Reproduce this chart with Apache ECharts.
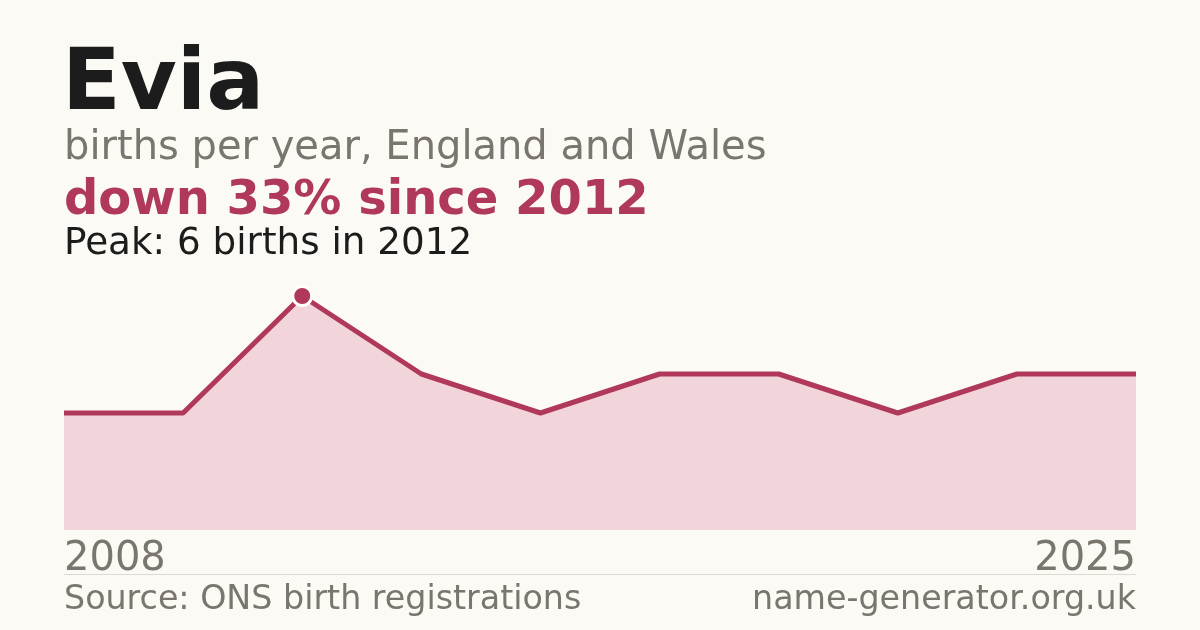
<!DOCTYPE html>
<html><head><meta charset="utf-8">
<script src="https://cdn.jsdelivr.net/npm/echarts@6/dist/echarts.min.js"></script>
<style>html,body{margin:0;padding:0;background:#fbfaf5;}#c{width:1200px;height:630px;}</style>
</head><body><div id="c"></div>
<script>
const years = ['2008','2010','2012','2014','2016','2018','2020','2022','2024','2025'];
const births = [3,3,6,4,3,4,4,3,4,4];
const peakIndex = 2;
const titleText = 'Evia';
const subtitleText = 'births per year, England and Wales';
const changeText = 'down 33% since 2012';
const peakText = 'Peak: 6 births in 2012';
const sourceText = 'Source: ONS birth registrations';
const siteText = 'name-generator.org.uk';

const font = 'DejaVu Sans';
const chart = echarts.init(document.getElementById('c'));
chart.setOption({
  backgroundColor: '#fbfaf5',
  animation: false,
  grid: {left: 64, right: 64, top: 296, bottom: 100},
  xAxis: {
    type: 'category', data: years, boundaryGap: false,
    axisLine: {show: false}, axisTick: {show: false}, splitLine: {show: false},
    axisLabel: {
      interval: (i) => i === 0 || i === years.length - 1,
      alignMinLabel: 'left', alignMaxLabel: 'right',
      color: '#7a756d', fontFamily: font, fontSize: 40, margin: 10
    }
  },
  yAxis: {type: 'value', min: 0, max: 6, show: false, splitLine: {show: false}},
  series: [{
    type: 'line', data: births.map((v, i) => i === peakIndex ? {
      value: v, symbol: 'circle', symbolSize: 19,
      itemStyle: {color: '#b0385a', borderColor: '#ffffff', borderWidth: 3}
    } : {value: v, symbol: 'none'}),
    showSymbol: true, clip: false,
    lineStyle: {color: '#b0385a', width: 5},
    areaStyle: {color: '#f1d5da', opacity: 1},
    itemStyle: {color: '#b0385a'}
  }],
  graphic: [
    {type: 'text', left: 62, top: 44, style: {text: titleText, fontFamily: font, fontWeight: 'bold', fontSize: 86, fill: '#1c1c1c'}},
    {type: 'text', left: 64, top: 129, style: {text: subtitleText, fontFamily: font, fontSize: 40, fill: '#7a756d'}},
    {type: 'text', left: 64, top: 178, style: {text: changeText, fontFamily: font, fontWeight: 'bold', fontSize: 48, fill: '#b0385a'}},
    {type: 'text', left: 64, top: 226, style: {text: peakText, fontFamily: font, fontSize: 37.3, fill: '#1c1c1c'}},
    {type: 'line', shape: {x1: 64, y1: 574.5, x2: 1136, y2: 574.5}, style: {stroke: '#dcdad4', lineWidth: 1}},
    {type: 'text', left: 64, top: 584, style: {text: sourceText, fontFamily: font, fontSize: 33.3, fill: '#7a756d'}},
    {type: 'text', right: 64, top: 584, style: {text: siteText, fontFamily: font, fontSize: 33.3, fill: '#7a756d', align: 'right'}}
  ]
});
</script></body></html>
